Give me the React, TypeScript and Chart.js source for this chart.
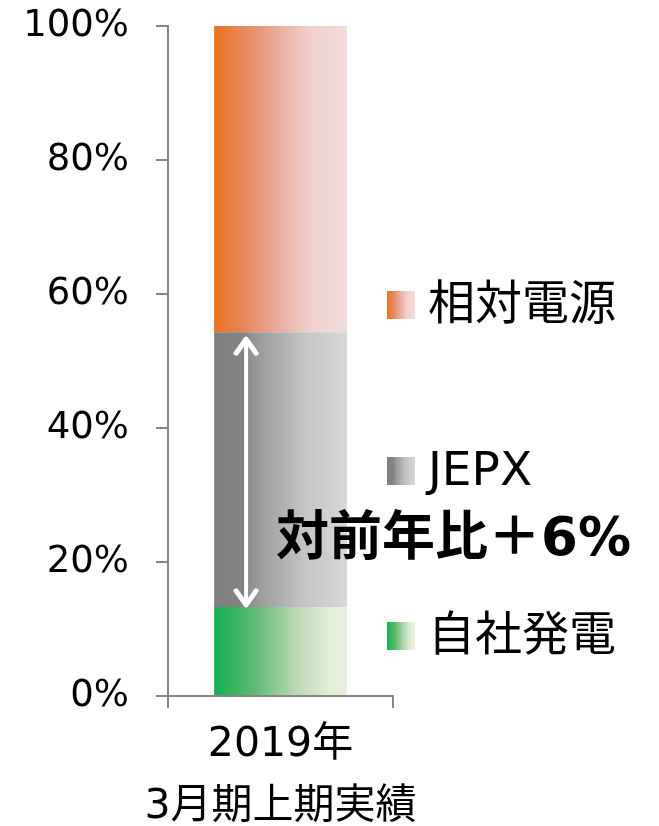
import React, { useEffect, useRef } from "react";
import { Chart, registerables } from "chart.js";

Chart.register(...registerables);

const categories: string[][] = [["2019年", "3月期上期実績"]];
const seriesNames = ["自社発電", "JEPX", "相対電源"];
const jishaValues = [13.3];
const jepxValues = [41.0];
const soutaiValues = [45.7];
const yTicks = [0, 20, 40, 60, 80, 100];
const annotationText = "対前年比＋6%";

const FONT = "'DejaVu Sans', 'Noto Sans CJK JP', sans-serif";

const gradStops: [number, string][][] = [
  [[0, "#12B050"], [0.3, "#5EB972"], [0.6, "#B5D7AF"], [0.85, "#E2ECD6"], [1, "#EAF0DE"]],
  [[0, "#7F7F7F"], [0.22, "#848484"], [0.3, "#959595"], [0.65, "#C2C2C2"], [1, "#D8D8D8"]],
  [[0, "#E8731E"], [0.25, "#E68A62"], [0.5, "#EAB0A4"], [0.75, "#F1D3D0"], [1, "#F2DCDB"]],
];

function makeGrad(ctx: CanvasRenderingContext2D, x0: number, x1: number, idx: number) {
  const g = ctx.createLinearGradient(x0, 0, x1, 0);
  gradStops[idx].forEach(([o, c]) => g.addColorStop(o, c));
  return g;
}

function barGradient(idx: number) {
  return (context: any) => {
    const chart = context.chart;
    const xs = chart.scales?.x;
    if (!xs || !chart.chartArea) return gradStops[idx][0][1];
    const center = xs.getPixelForValue(0);
    const w = (xs.width / categories.length) * 0.59;
    return makeGrad(chart.ctx, center - w / 2, center + w / 2, idx);
  };
}

const overlayPlugin = {
  id: "overlay",
  afterDraw(chart: any) {
    const ctx: CanvasRenderingContext2D = chart.ctx;
    const ys = chart.scales.y;
    const bar = chart.getDatasetMeta(0).data[0];
    const barLeft = bar.x - bar.width / 2;
    ctx.save();
    // double arrow
    const ax = barLeft + 32;
    const yTop = ys.getPixelForValue(jishaValues[0] + jepxValues[0]) + 5;
    const yBot = ys.getPixelForValue(jishaValues[0]);
    ctx.strokeStyle = "#FFFFFF";
    ctx.lineWidth = 4;
    ctx.lineCap = "round";
    ctx.lineJoin = "round";
    ctx.beginPath();
    ctx.moveTo(ax, yTop + 2);
    ctx.lineTo(ax, yBot - 2);
    ctx.stroke();
    ctx.lineWidth = 5;
    ctx.beginPath();
    ctx.moveTo(ax - 10, yTop + 16);
    ctx.lineTo(ax, yTop + 2);
    ctx.lineTo(ax + 10, yTop + 16);
    ctx.moveTo(ax - 10, yBot - 16);
    ctx.lineTo(ax, yBot - 2);
    ctx.lineTo(ax + 10, yBot - 16);
    ctx.stroke();

    // legend
    const legendY = [636, 471, 305];
    ctx.font = `47px ${FONT}`;
    ctx.textBaseline = "middle";
    ctx.textAlign = "left";
    seriesNames.forEach((name, i) => {
      const y = legendY[i];
      ctx.fillStyle = makeGrad(ctx, 387, 415, i);
      ctx.fillRect(387, y - 14, 28, 28);
      ctx.fillStyle = "#000000";
      ctx.fillText(name, 428, y + 2);
    });

    // annotation
    ctx.font = `bold 53px ${FONT}`;
    ctx.fillStyle = "#000000";
    ctx.fillText(annotationText, 276, 541);
    ctx.restore();
  },
};

export default function App() {
  const ref = useRef<HTMLCanvasElement>(null);
  useEffect(() => {
    if (!ref.current) return;
    const chart = new Chart(ref.current, {
      type: "bar",
      data: {
        labels: categories,
        datasets: [
          { label: seriesNames[0], data: jishaValues, backgroundColor: barGradient(0) },
          { label: seriesNames[1], data: jepxValues, backgroundColor: barGradient(1) },
          { label: seriesNames[2], data: soutaiValues, backgroundColor: barGradient(2) },
        ],
      },
      options: {
        animation: false,
        responsive: true,
        maintainAspectRatio: false,
        layout: { padding: { top: 26, right: 266, left: 0, bottom: 0 } },
        datasets: { bar: { barPercentage: 0.59, categoryPercentage: 1 } },
        plugins: { legend: { display: false }, tooltip: { enabled: false } },
        scales: {
          x: {
            stacked: true,
            offset: true,
            grid: {
              offset: true,
              drawOnChartArea: false,
              drawTicks: true,
              tickLength: 12,
              color: "#868686",
              lineWidth: 2,
            },
            border: { color: "#868686", width: 2 },
            ticks: {
              color: "#000000",
              padding: 6,
              font: { family: FONT, size: 41, lineHeight: 1.52 },
              maxRotation: 0,
            },
            afterFit: (s: any) => {
              s.height = 130;
              s.paddingLeft = 0;
              s.paddingRight = 0;
            },
          },
          y: {
            stacked: true,
            min: 0,
            max: 100,
            afterBuildTicks: (s: any) => {
              s.ticks = yTicks.map((v) => ({ value: v }));
            },
            grid: {
              drawOnChartArea: false,
              drawTicks: true,
              tickLength: 12,
              color: "#868686",
              lineWidth: 2,
            },
            border: { color: "#868686", width: 2 },
            ticks: {
              color: "#000000",
              padding: 27,
              font: { family: FONT, size: 37 },
              callback: (v: any) => `${v}%`,
            },
            afterFit: (s: any) => {
              s.width = 168;
              s.paddingTop = 0;
              s.paddingBottom = 0;
            },
          },
        },
      },
      plugins: [overlayPlugin],
    });
    return () => chart.destroy();
  }, []);
  return (
    <div style={{ position: "fixed", left: 0, top: 0, width: 659, height: 826, background: "#fff" }}>
      <canvas ref={ref} />
    </div>
  );
}
